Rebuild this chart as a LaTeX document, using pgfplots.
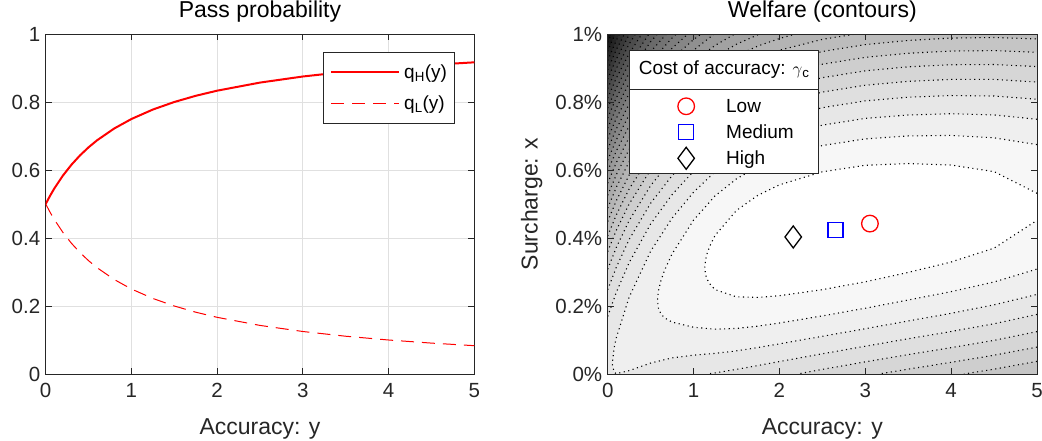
\documentclass[border=0pt]{standalone}
\usepackage{fontspec}
\setmainfont{Liberation Sans}
\usepackage{pgfplots}
\usepackage{pgfplotstable}
\pgfplotsset{compat=1.18}

\newcommand\tickfont{\fontsize{20.5}{20.5}\selectfont}
\newcommand\labfont{\fontsize{23}{23}\selectfont}
\newcommand\legfont{\fontsize{19}{19}\selectfont}

% pass probabilities
\pgfplotstableread{
y qH qL
0 0.5 0.5
0.05 0.5238 0.4762
0.1 0.5455 0.4545
0.2 0.5833 0.4167
0.3 0.6154 0.3846
0.4 0.6429 0.3571
0.5 0.6667 0.3333
0.6 0.6875 0.3125
0.8 0.7222 0.2778
1 0.75 0.25
1.25 0.7778 0.2222
1.5 0.8 0.2
1.75 0.8182 0.1818
2 0.8333 0.1667
2.5 0.8571 0.1429
3 0.875 0.125
3.5 0.8889 0.1111
4 0.9 0.1
4.5 0.9091 0.0909
5 0.9167 0.0833
}\passprob

% welfare contour levels (accuracy y, surcharge x in %)
\pgfplotstableread{
y x
5 0.5314
4.5 0.5952
4 0.6145
3.5 0.6190
3 0.6138
2.5 0.5947
2 0.5563
1.75 0.5257
1.5 0.4811
1.25 0.4073
1.2 0.3820
1.16 0.3562
1.14 0.3362
1.131 0.3128
1.14 0.2924
1.16 0.2776
1.2 0.2616
1.25 0.2483
1.5 0.2269
1.75 0.2253
2 0.2303
2.5 0.2481
3 0.2712
3.5 0.2988
4 0.3295
4.5 0.3702
5 0.4520
}\ConA
\pgfplotstableread{
y x
5 0.6747
4.5 0.6947
4 0.7017
3.5 0.7002
3 0.6915
2.5 0.6719
2 0.6366
1.75 0.6102
1.5 0.5740
1.25 0.5238
1 0.4525
0.75 0.3533
0.66 0.3036
0.62 0.2748
0.59 0.2434
0.58 0.2166
0.59 0.1944
0.62 0.1768
0.66 0.1656
0.75 0.1525
1 0.1375
1.25 0.1318
1.5 0.1340
1.75 0.1408
2 0.1500
2.5 0.1709
3 0.1935
3.5 0.2176
4 0.2423
4.5 0.2707
5 0.3087
}\ConB
\pgfplotstableread{
y x
5 0.7492
4.5 0.7620
4 0.7655
3.5 0.7618
3 0.7518
2.5 0.7319
2 0.6979
1.75 0.6731
1.5 0.6400
1.25 0.5949
1 0.5346
0.75 0.4585
0.5 0.3612
0.25 0.2260
0.1 0.1063
0.075 0.0772
0.053 0.0297
0.075 0.0052
0.1 0.0009
0.25 0.0100
0.5 0.0322
0.75 0.0473
1 0.0554
1.25 0.0607
1.5 0.0680
1.75 0.0779
2 0.0887
2.5 0.1109
3 0.1332
3.5 0.1560
4 0.1785
4.5 0.2034
5 0.2342
}\ConC
\pgfplotstableread{
y x
0 0.1694
0.1 0.2401
0.25 0.3277
0.5 0.4412
0.75 0.5275
1 0.5965
1.25 0.6522
1.5 0.6945
1.75 0.7260
2 0.7500
2.5 0.7833
3 0.8033
3.5 0.8141
4 0.8190
4.5 0.8176
5 0.8081
nan nan
5 0.1753
4.5 0.1478
4 0.1250
3.5 0.1037
3 0.0817
2.5 0.0595
2 0.0366
1.75 0.0250
1.5 0.0135
1.25 0.0034
1.164 0
}\ConD
\pgfplotstableread{
y x
0 0.2477
0.1 0.3137
0.25 0.3957
0.5 0.5022
0.75 0.5835
1 0.6489
1.25 0.7019
1.5 0.7426
1.75 0.7731
2 0.7964
2.5 0.8292
3 0.8493
3.5 0.8607
4 0.8665
4.5 0.8664
5 0.8587
nan nan
5 0.1247
4.5 0.0990
4 0.0775
3.5 0.0571
3 0.0357
2.5 0.0136
2.21 0
}\ConE
\pgfplotstableread{
y x
0 0.3082
0.1 0.3721
0.25 0.4513
0.5 0.5541
0.75 0.6326
1 0.6956
1.25 0.7468
1.5 0.7862
1.75 0.8160
2 0.8390
2.5 0.8715
3 0.8917
3.5 0.9035
4 0.9096
4.5 0.9102
5 0.9042
nan nan
5 0.0792
4.5 0.0552
4 0.0344
3.5 0.0143
3.16 0
}\ConF
\pgfplotstableread{
y x
0 0.3598
0.1 0.4225
0.25 0.5000
0.5 0.6005
0.75 0.6770
1 0.7384
1.25 0.7883
1.5 0.8269
1.75 0.8562
2 0.8788
2.5 0.9111
3 0.9313
3.5 0.9433
4 0.9499
4.5 0.9512
5 0.9462
nan nan
5 0.0372
4.5 0.0142
4.15 0
}\ConG
\pgfplotstableread{
y x
0 0.4060
0.1 0.4677
0.25 0.5442
0.5 0.6430
0.75 0.7182
1 0.7784
1.25 0.8273
1.5 0.8652
1.75 0.8940
2 0.9164
2.5 0.9485
3 0.9688
3.5 0.9810
4 0.9880
4.5 0.9897
5 0.9855
}\ConH
\pgfplotstableread{
y x
0 0.4484
0.1 0.5097
0.25 0.5853
0.5 0.6829
0.75 0.7569
1 0.8161
1.25 0.8643
1.5 0.9016
1.75 0.9301
2 0.9523
2.5 0.9842
2.89 1
}\ConI
\pgfplotstableread{
y x
0 0.4880
0.1 0.5489
0.25 0.6239
0.5 0.7204
0.75 0.7937
1 0.8521
1.25 0.8995
1.5 0.9364
1.75 0.9647
2 0.9867
2.19 1
}\ConJ
\pgfplotstableread{
y x
0 0.5255
0.1 0.5860
0.25 0.6605
0.5 0.7561
0.75 0.8288
1 0.8865
1.25 0.9334
1.5 0.9699
1.77 1
}\ConK
\pgfplotstableread{
y x
0 0.5613
0.1 0.6214
0.25 0.6956
0.5 0.7906
0.75 0.8625
1 0.9198
1.25 0.9663
1.48 1
}\ConL
\pgfplotstableread{
y x
0 0.5973
0.1 0.6556
0.25 0.7292
0.5 0.8238
0.75 0.8956
1 0.9521
1.24 1
}\ConM
\pgfplotstableread{
y x
0 0.6288
0.1 0.6885
0.25 0.7620
0.5 0.8561
0.75 0.9271
1 0.9836
1.09 1
}\ConN
\pgfplotstableread{
y x
0 0.6609
0.1 0.7206
0.25 0.7938
0.5 0.8875
0.75 0.9582
0.935 1
}\ConO
\pgfplotstableread{
y x
0 0.6924
0.1 0.7518
0.25 0.8248
0.5 0.9181
0.75 0.9884
0.80 1
}\ConP
\pgfplotstableread{
y x
0 0.7230
0.1 0.7822
0.25 0.8550
0.5 0.9480
0.685 1
}\ConQ
\pgfplotstableread{
y x
0 0.7528
0.1 0.8120
0.25 0.8846
0.5 0.9774
0.581 1
}\ConR
\pgfplotstableread{
y x
0 0.7822
0.1 0.8412
0.25 0.9138
0.482 1
}\ConS
\pgfplotstableread{
y x
0 0.8110
0.1 0.8700
0.25 0.9424
0.398 1
}\ConT
\pgfplotstableread{
y x
0 0.8394
0.1 0.8983
0.25 0.9705
0.324 1
}\ConU
\pgfplotstableread{
y x
0 0.8673
0.1 0.9261
0.254 1
}\ConV
\pgfplotstableread{
y x
0 0.8949
0.1 0.9536
0.196 1
}\ConW
\pgfplotstableread{
y x
0 0.9220
0.1 0.9807
0.138 1
}\ConX
\pgfplotstableread{
y x
0 0.9490
0.05 0.9796
0.089 1
}\ConY
\pgfplotstableread{
y x
0 0.9755
0.043 1
}\ConZ

\pgfplotsset{
  matlab/.style={
    scale only axis, anchor=south west,
    xmin=0, xmax=5, ymin=0, ymax=1,
    xtick={0,1,2,3,4,5}, xticklabels={0,1,2,3,4,5},
    ytick={0,0.2,0.4,0.6,0.8,1},
    tick pos=both, tick align=inside, major tick length=6pt,
    tick style={black!85, line width=1pt},
    axis line style={black!85, line width=1pt},
    tick label style={font=\tickfont, text=black!85},
    xticklabel style={yshift=-6pt},
    yticklabel style={xshift=-2pt},
    title style={font=\labfont, at={(axis description cs:0.5,1)}, anchor=base, yshift=11pt},
    xlabel style={font=\labfont, text=black!85, at={(axis description cs:0.5,0)}, anchor=base, yshift=-60pt},
  },
  band/.style={draw=none, fill=black!#1, forget plot, unbounded coords=discard},
  cline/.style={black, line width=1.1pt, dash pattern=on 1.1pt off 3.5pt, forget plot, unbounded coords=jump},
}

\begin{document}
\begin{tikzpicture}
\useasboundingbox (-45.7pt,-66pt) rectangle (996.3pt,374pt);

\begin{axis}[matlab,
    at={(0pt,0pt)}, width=428.6pt, height=340pt,
    yticklabels={0,0.2,0.4,0.6,0.8,1},
    grid=major, major grid style={black!12, line width=0.8pt},
    title={Pass probability},
    xlabel={Accuracy: y},
    legend style={at={(axis description cs:0.6463,0.948)}, anchor=north west,
        draw=black!85, line width=1pt, fill=white, inner xsep=7pt, inner ysep=4pt,
        nodes={inner sep=0pt}, font=\legfont},
    legend cell align=left,
    legend image code/.code={\path[draw=none, fill=none] (0pt,-15.8pt) rectangle (73pt,15.8pt);
        \draw[#1] (0pt,0pt) -- (68pt,0pt);},
]
\addplot[red, line width=2pt] table[x=y, y=qH] {\passprob};
\addlegendentry{q\textsubscript{H}(y)}
\addplot[red, line width=1pt, dash pattern=on 13pt off 8pt] table[x=y, y=qL] {\passprob};
\addlegendentry{q\textsubscript{L}(y)}
\end{axis}

\begin{axis}[matlab,
    at={(562pt,0pt)}, width=429.3pt, height=340pt,
    axis on top,
    axis background/.style={fill=black!94},
    yticklabels={0\%,0.2\%,0.4\%,0.6\%,0.8\%,1\%},
    title={Welfare (contours)},
    xlabel={Accuracy: y},
    ylabel={Surcharge: x},
    ylabel style={font=\labfont, text=black!85, at={(axis description cs:0,0.5)}, anchor=base, rotate=0, yshift=70pt},
    legend style={at={(axis description cs:0.0519,0.838)}, anchor=north west,
        draw=none, fill=none, inner xsep=0pt, inner ysep=4pt,
        nodes={inner sep=0pt}, font=\legfont},
    legend cell align=left,
    legend image code/.code={\path[draw=none, fill=none] (0pt,-13pt) rectangle (96pt,13pt);
        \draw[#1] plot coordinates {(56pt,0pt)};},
]
% filled bands, outermost first
\addplot[band=90.0] table {\ConZ} -- (axis cs:5,1) -- (axis cs:5,0) -- (axis cs:0,0) -- cycle;
\addplot[band=85.92] table {\ConY} -- (axis cs:5,1) -- (axis cs:5,0) -- (axis cs:0,0) -- cycle;
\addplot[band=81.88] table {\ConX} -- (axis cs:5,1) -- (axis cs:5,0) -- (axis cs:0,0) -- cycle;
\addplot[band=77.88] table {\ConW} -- (axis cs:5,1) -- (axis cs:5,0) -- (axis cs:0,0) -- cycle;
\addplot[band=73.92] table {\ConV} -- (axis cs:5,1) -- (axis cs:5,0) -- (axis cs:0,0) -- cycle;
\addplot[band=70.0] table {\ConU} -- (axis cs:5,1) -- (axis cs:5,0) -- (axis cs:0,0) -- cycle;
\addplot[band=66.12] table {\ConT} -- (axis cs:5,1) -- (axis cs:5,0) -- (axis cs:0,0) -- cycle;
\addplot[band=62.28] table {\ConS} -- (axis cs:5,1) -- (axis cs:5,0) -- (axis cs:0,0) -- cycle;
\addplot[band=58.48] table {\ConR} -- (axis cs:5,1) -- (axis cs:5,0) -- (axis cs:0,0) -- cycle;
\addplot[band=54.72] table {\ConQ} -- (axis cs:5,1) -- (axis cs:5,0) -- (axis cs:0,0) -- cycle;
\addplot[band=51.0] table {\ConP} -- (axis cs:5,1) -- (axis cs:5,0) -- (axis cs:0,0) -- cycle;
\addplot[band=47.32] table {\ConO} -- (axis cs:5,1) -- (axis cs:5,0) -- (axis cs:0,0) -- cycle;
\addplot[band=43.68] table {\ConN} -- (axis cs:5,1) -- (axis cs:5,0) -- (axis cs:0,0) -- cycle;
\addplot[band=40.08] table {\ConM} -- (axis cs:5,1) -- (axis cs:5,0) -- (axis cs:0,0) -- cycle;
\addplot[band=36.52] table {\ConL} -- (axis cs:5,1) -- (axis cs:5,0) -- (axis cs:0,0) -- cycle;
\addplot[band=33.0] table {\ConK} -- (axis cs:5,1) -- (axis cs:5,0) -- (axis cs:0,0) -- cycle;
\addplot[band=29.52] table {\ConJ} -- (axis cs:5,1) -- (axis cs:5,0) -- (axis cs:0,0) -- cycle;
\addplot[band=26.08] table {\ConI} -- (axis cs:5,1) -- (axis cs:5,0) -- (axis cs:0,0) -- cycle;
\addplot[band=22.68] table {\ConH} -- (axis cs:5,0) -- (axis cs:0,0) -- cycle;
\addplot[band=19.32] table {\ConG} -- (axis cs:0,0) -- cycle;
\addplot[band=16.0] table {\ConF} -- (axis cs:0,0) -- cycle;
\addplot[band=12.72] table {\ConE} -- (axis cs:0,0) -- cycle;
\addplot[band=9.48] table {\ConD} -- (axis cs:0,0) -- cycle;
\addplot[band=6.28] table {\ConC};
\addplot[band=3.12] table {\ConB};
\addplot[band=0] table {\ConA};
% dotted contour lines
\addplot[cline] table {\ConA};
\addplot[cline] table {\ConB};
\addplot[cline] table {\ConC};
\addplot[cline] table {\ConD};
\addplot[cline] table {\ConE};
\addplot[cline] table {\ConF};
\addplot[cline] table {\ConG};
\addplot[cline] table {\ConH};
\addplot[cline] table {\ConI};
\addplot[cline] table {\ConJ};
\addplot[cline] table {\ConK};
\addplot[cline] table {\ConL};
\addplot[cline] table {\ConM};
\addplot[cline] table {\ConN};
\addplot[cline] table {\ConO};
\addplot[cline] table {\ConP};
\addplot[cline] table {\ConQ};
\addplot[cline] table {\ConR};
\addplot[cline] table {\ConS};
\addplot[cline] table {\ConT};
\addplot[cline] table {\ConU};
\addplot[cline] table {\ConV};
\addplot[cline] table {\ConW};
\addplot[cline] table {\ConX};
\addplot[cline] table {\ConY};
\addplot[cline] table {\ConZ};
% legend box with its title
\draw[draw=black!85, line width=1pt, fill=white] (rel axis cs:0.0519,0.9529) rectangle (rel axis cs:0.4906,0.5897);
\draw[draw=black!85, line width=1pt] (rel axis cs:0.0519,0.838) -- (rel axis cs:0.4906,0.838);
\node[font=\legfont] at (rel axis cs:0.2713,0.8954) {Cost of accuracy: $\gamma$\textsubscript{c}};
% optima
\addplot[only marks, red, mark=o, mark size=8.3pt, mark options={line width=1.3pt}] coordinates {(3.054,0.4424)};
\addlegendentry{Low}
\addplot[only marks, blue, mark=square, mark size=7.5pt, mark options={line width=1.3pt}] coordinates {(2.654,0.4227)};
\addlegendentry{Medium}
\addplot[only marks, black, mark=diamond, mark size=11pt, mark options={line width=1.3pt}] coordinates {(2.161,0.403)};
\addlegendentry{High}
\end{axis}
\end{tikzpicture}
\end{document}
